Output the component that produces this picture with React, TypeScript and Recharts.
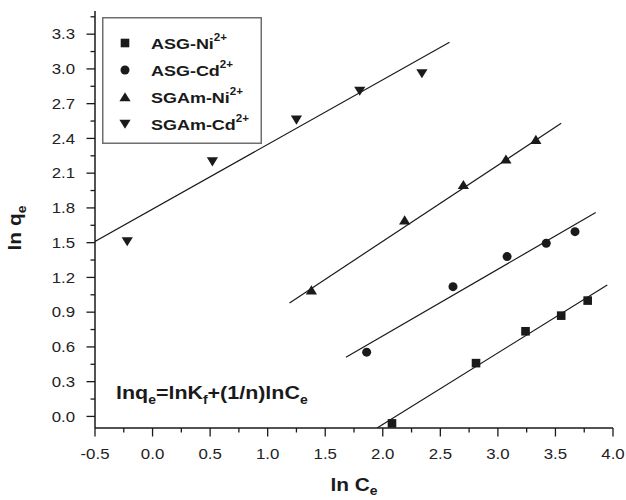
import React from 'react';
import { ScatterChart, Scatter, XAxis, YAxis, Legend } from 'recharts';

// ---- tick values ----
const xMajorTicks = [-0.5, 0, 0.5, 1, 1.5, 2, 2.5, 3, 3.5, 4];
const xMinorTicks = [-0.25, 0.25, 0.75, 1.25, 1.75, 2.25, 2.75, 3.25, 3.75];
const yMajorTicks = [0, 0.3, 0.6, 0.9, 1.2, 1.5, 1.8, 2.1, 2.4, 2.7, 3.0, 3.3];
const yMinorTicks = [0.15, 0.45, 0.75, 1.05, 1.35, 1.65, 1.95, 2.25, 2.55, 2.85, 3.15, 3.45];

// ---- measured points (ln Ce, ln qe) ----
const asgNi = [
  { x: 2.08, y: -0.06 },
  { x: 2.81, y: 0.46 },
  { x: 3.24, y: 0.735 },
  { x: 3.55, y: 0.87 },
  { x: 3.78, y: 1.0 },
];
const asgCd = [
  { x: 1.86, y: 0.555 },
  { x: 2.61, y: 1.12 },
  { x: 3.08, y: 1.38 },
  { x: 3.42, y: 1.495 },
  { x: 3.67, y: 1.595 },
];
const sgamNi = [
  { x: 1.38, y: 1.09 },
  { x: 2.19, y: 1.695 },
  { x: 2.7, y: 2.0 },
  { x: 3.07, y: 2.22 },
  { x: 3.33, y: 2.39 },
];
const sgamCd = [
  { x: -0.22, y: 1.51 },
  { x: 0.52, y: 2.2 },
  { x: 1.25, y: 2.56 },
  { x: 1.8, y: 2.81 },
  { x: 2.34, y: 2.96 },
];

// ---- fitted lines (end points) ----
const fitAsgNi = [
  { x: 1.95, y: -0.1 },
  { x: 3.95, y: 1.135 },
];
const fitAsgCd = [
  { x: 1.68, y: 0.51 },
  { x: 3.85, y: 1.76 },
];
const fitSgamNi = [
  { x: 1.19, y: 0.98 },
  { x: 3.55, y: 2.53 },
];
const fitSgamCd = [
  { x: -0.5, y: 1.51 },
  { x: 2.58, y: 3.23 },
];

const legendNames = ['ASG-Ni', 'ASG-Cd', 'SGAm-Ni', 'SGAm-Cd'];
const legendSup = ['2+', '2+', '2+', '2+'];
const legendShapes = ['square', 'circle', 'up', 'down'];

const FONT = '"Liberation Sans", Arial, Helvetica, sans-serif';
const SX = 1.16;
const INK = '#1a1a1a';

const allX = [...xMajorTicks, ...xMinorTicks].sort((a, b) => a - b);
const allY = [...yMajorTicks, ...yMinorTicks].sort((a, b) => a - b);
const isMajor = (v: number, arr: number[]) => arr.some((t) => Math.abs(t - v) < 1e-6);

const Marker = ({ kind, cx, cy }: { kind: string; cx: number; cy: number }) => {
  if (kind === 'square') return <rect x={cx - 4.3} y={cy - 4.3} width={8.6} height={8.6} fill={INK} />;
  if (kind === 'circle') return <circle cx={cx} cy={cy} r={4.5} fill={INK} />;
  if (kind === 'up')
    return <polygon points={`${cx},${cy - 4.8} ${cx + 5.6},${cy + 4.3} ${cx - 5.6},${cy + 4.3}`} fill={INK} />;
  return <polygon points={`${cx},${cy + 4.8} ${cx + 5.6},${cy - 4.3} ${cx - 5.6},${cy - 4.3}`} fill={INK} />;
};

const shapeOf = (kind: string) => (p: any) => <Marker kind={kind} cx={p.cx} cy={p.cy} />;
const noShape = () => <g />;

const BottomTick = (p: any) => {
  const v = p.payload.value;
  const major = isMajor(v, xMajorTicks);
  return (
    <g>
      <line x1={p.x} x2={p.x} y1={p.y} y2={p.y + (major ? 8.5 : 4.5)} stroke={INK} strokeWidth={1.3} />
      {major && (
        <text
          transform={`translate(${p.x},${p.y + 31}) scale(${SX},1)`}
          textAnchor="middle"
          fontSize={14.5}
          fontFamily={FONT}
          fill="#222"
        >
          {v.toFixed(1)}
        </text>
      )}
    </g>
  );
};

const LeftTick = (p: any) => {
  const v = p.payload.value;
  const major = isMajor(v, yMajorTicks);
  return (
    <g>
      <line x1={p.x - (major ? 8.5 : 4.5)} x2={p.x} y1={p.y} y2={p.y} stroke={INK} strokeWidth={1.3} />
      {major && (
        <text
          transform={`translate(${p.x - 20},${p.y + 5.2}) scale(${SX},1)`}
          textAnchor="end"
          fontSize={14.5}
          fontFamily={FONT}
          fill="#222"
        >
          {v.toFixed(1)}
        </text>
      )}
    </g>
  );
};

const TopTick = (p: any) => <line x1={p.x} x2={p.x} y1={p.y} y2={p.y + 3} stroke={INK} strokeWidth={1.2} />;
const RightTick = (p: any) => <line x1={p.x - 3} x2={p.x} y1={p.y} y2={p.y} stroke={INK} strokeWidth={1.2} />;

const LegendBox = () => (
  <svg width={160} height={127} style={{ display: 'block' }}>
    <rect x={0.75} y={0.75} width={158.5} height={125.5} fill="#fff" stroke="#6e6e6e" strokeWidth={1.5} />
    {legendNames.map((n, i) => {
      const cy = 26 + i * 27;
      return (
        <g key={n}>
          <Marker kind={legendShapes[i]} cx={23} cy={cy} />
          <g transform={`translate(49,${cy + 5.6}) scale(${SX},1)`}>
            <text x={0} y={0} fontSize={15.5} fontWeight="bold" fontFamily={FONT} fill={INK}>
              {n}
              <tspan fontSize={10} dy={-7.5}>
                {legendSup[i]}
              </tspan>
            </text>
          </g>
        </g>
      );
    })}
  </svg>
);

export default function App() {
  return (
    <div style={{ position: 'absolute', left: 0, top: 0, width: 626, height: 500, background: '#fff' }}>
      <ScatterChart width={626} height={500} margin={{ top: 11, right: 13, bottom: 42, left: 55 }}>
        <XAxis
          type="number"
          dataKey="x"
          domain={[-0.5, 4]}
          ticks={allX}
          interval={0}
          allowDataOverflow
          height={30}
          tickSize={0}
          tickMargin={0}
          tickLine={false}
          tick={<BottomTick />}
          axisLine={{ stroke: INK, strokeWidth: 1.5 }}
        />
        <XAxis
          xAxisId="top"
          orientation="top"
          type="number"
          dataKey="x"
          domain={[-0.5, 4]}
          ticks={xMajorTicks}
          interval={0}
          allowDataOverflow
          height={0}
          tickSize={0}
          tickMargin={0}
          tickLine={false}
          tick={<TopTick />}
          axisLine={{ stroke: INK, strokeWidth: 1.5 }}
        />
        <YAxis
          type="number"
          dataKey="y"
          domain={[-0.1, 3.5]}
          ticks={allY}
          interval={0}
          allowDataOverflow
          width={40}
          tickSize={0}
          tickMargin={0}
          tickLine={false}
          tick={<LeftTick />}
          axisLine={{ stroke: INK, strokeWidth: 1.5 }}
        />
        <YAxis
          yAxisId="right"
          orientation="right"
          type="number"
          dataKey="y"
          domain={[-0.1, 3.5]}
          ticks={yMajorTicks}
          interval={0}
          allowDataOverflow
          width={0}
          tickSize={0}
          tickMargin={0}
          tickLine={false}
          tick={<RightTick />}
          axisLine={{ stroke: INK, strokeWidth: 1.5 }}
        />
        <Legend
          layout="vertical"
          align="center"
          verticalAlign="middle"
          wrapperStyle={{ left: 102, top: 17, width: 160, height: 127 }}
          content={() => <LegendBox />}
        />
        <Scatter data={fitAsgNi} line={{ stroke: INK, strokeWidth: 1.2 }} shape={noShape} legendType="none" isAnimationActive={false} />
        <Scatter data={fitAsgCd} line={{ stroke: INK, strokeWidth: 1.2 }} shape={noShape} legendType="none" isAnimationActive={false} />
        <Scatter data={fitSgamNi} line={{ stroke: INK, strokeWidth: 1.2 }} shape={noShape} legendType="none" isAnimationActive={false} />
        <Scatter data={fitSgamCd} line={{ stroke: INK, strokeWidth: 1.2 }} shape={noShape} legendType="none" isAnimationActive={false} />
        <Scatter name="ASG-Ni2+" data={asgNi} shape={shapeOf('square')} isAnimationActive={false} />
        <Scatter name="ASG-Cd2+" data={asgCd} shape={shapeOf('circle')} isAnimationActive={false} />
        <Scatter name="SGAm-Ni2+" data={sgamNi} shape={shapeOf('up')} isAnimationActive={false} />
        <Scatter name="SGAm-Cd2+" data={sgamCd} shape={shapeOf('down')} isAnimationActive={false} />
      </ScatterChart>
      <svg
        width={626}
        height={500}
        style={{ position: 'absolute', left: 0, top: 0, pointerEvents: 'none' }}
      >
        <g transform={`translate(116,399) scale(${SX},1)`}>
          <text x={0} y={0} fontSize={18.5} fontWeight="bold" fontFamily={FONT} fill={INK}>
            lnq<tspan fontSize={12} dy={5}>e</tspan>
            <tspan dy={-5}>=lnK</tspan>
            <tspan fontSize={12} dy={5}>f</tspan>
            <tspan dy={-5}>+(1/n)lnC</tspan>
            <tspan fontSize={12} dy={5}>e</tspan>
          </text>
        </g>
        <g transform={`translate(354,491) scale(${SX},1)`}>
          <text x={0} y={0} textAnchor="middle" fontSize={18} fontWeight="bold" fontFamily={FONT} fill={INK}>
            ln C<tspan fontSize={12} dy={4}>e</tspan>
          </text>
        </g>
        <g transform={`translate(21,228) rotate(-90) scale(${SX},1)`}>
          <text x={0} y={0} textAnchor="middle" fontSize={18} fontWeight="bold" fontFamily={FONT} fill={INK}>
            ln q<tspan fontSize={12} dy={5}>e</tspan>
          </text>
        </g>
      </svg>
    </div>
  );
}
